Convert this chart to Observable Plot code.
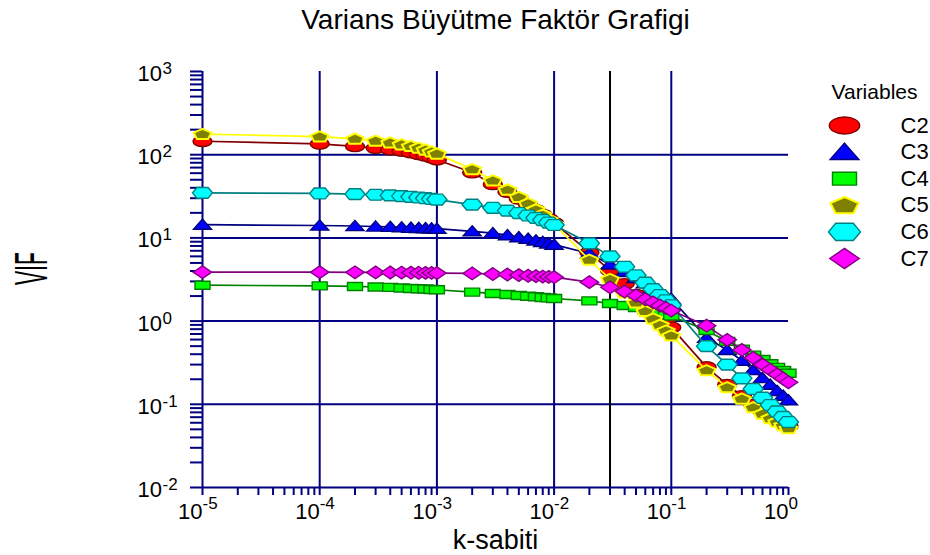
<!DOCTYPE html>
<html>
<head>
<meta charset="utf-8">
<script src="https://cdn.jsdelivr.net/npm/d3@7"></script>
<script src="https://cdn.jsdelivr.net/npm/@observablehq/plot@0.6"></script>
<style>
  body { margin: 0; background: #fff; }
  #chart svg { display: block; }
</style>
</head>
<body>
<div id="chart"></div>
<script>
// ---------------- data ----------------
const title = "Varians Büyütme Faktör Grafigi";
const xLabel = "k-sabiti";
const yLabel = "VIF";
const legendTitle = "Variables";
const seriesNames = ["C2", "C3", "C4", "C5", "C6", "C7"];

const kValues = [0.00001, 0.0001, 0.0002, 0.0003, 0.0004, 0.0005, 0.0006, 0.0007, 0.0008, 0.0009,
  0.001, 0.002, 0.003, 0.004, 0.005, 0.006, 0.007, 0.008, 0.009, 0.01,
  0.02, 0.03, 0.04, 0.05, 0.06, 0.07, 0.08, 0.09, 0.1,
  0.2, 0.3, 0.4, 0.5, 0.6, 0.7, 0.8, 0.9, 1.0];

const C2 = [145, 135, 126, 120, 115, 111, 106, 101, 97, 92.5, 87, 61, 44, 35.5, 29.5, 25, 21.6, 19, 16.9, 15.2,
  6.7, 4.05, 2.8, 2.08, 1.64, 1.34, 1.12, 0.96, 0.84, 0.28, 0.172, 0.126, 0.099, 0.082, 0.072, 0.065, 0.059, 0.0545];
const C3 = [14.4, 14.1, 13.9, 13.7, 13.6, 13.4, 13.3, 13.2, 13.1, 13.0, 12.9, 12.0, 11.4, 10.8, 10.2, 9.8, 9.35, 8.95, 8.6, 8.3,
  6.5, 4.8, 3.9, 3.3, 2.85, 2.5, 2.22, 2.0, 1.85, 0.63, 0.45, 0.335, 0.258, 0.207, 0.172, 0.145, 0.127, 0.112];
const C4 = [2.70, 2.65, 2.61, 2.57, 2.54, 2.50, 2.47, 2.45, 2.43, 2.40, 2.38, 2.23, 2.15, 2.09, 2.03, 1.99, 1.96, 1.92, 1.90, 1.87,
  1.75, 1.63, 1.54, 1.46, 1.38, 1.31, 1.25, 1.20, 1.15, 0.77, 0.57, 0.46, 0.39, 0.345, 0.307, 0.278, 0.255, 0.236];
const C5 = [177, 165, 155, 147, 140, 133, 127, 121, 115, 109, 103, 67, 49, 38, 31, 26, 22, 19, 16.6, 14.6,
  5.45, 3.2, 2.2, 1.67, 1.32, 1.07, 0.9, 0.77, 0.67, 0.256, 0.16, 0.117, 0.092, 0.077, 0.068, 0.0615, 0.056, 0.0515];
const C6 = [34.8, 34.2, 33.6, 33.0, 32.4, 31.8, 31.2, 30.6, 30.0, 29.4, 28.9, 25.1, 23.0, 21.3, 19.9, 18.6, 17.4, 16.4, 15.3, 14.3,
  8.6, 6.0, 4.5, 3.55, 2.9, 2.42, 2.06, 1.78, 1.55, 0.5, 0.3, 0.205, 0.153, 0.12, 0.098, 0.082, 0.0705, 0.0613];
const C7 = [3.87, 3.87, 3.86, 3.85, 3.84, 3.83, 3.82, 3.81, 3.80, 3.79, 3.78, 3.74, 3.68, 3.63, 3.57, 3.51, 3.47, 3.43, 3.40, 3.37,
  2.94, 2.55, 2.27, 2.03, 1.83, 1.68, 1.54, 1.44, 1.34, 0.88, 0.595, 0.45, 0.362, 0.30, 0.26, 0.229, 0.204, 0.184];

const xTickExponents = [-5, -4, -3, -2, -1, 0];
const yTickExponents = [-2, -1, 0, 1, 2, 3];
const xGridValues = [1e-4, 1e-3, 1e-2, 1e-1];
const yGridValues = [1e-1, 1, 10, 100];
const referenceK = 0.03;

// ---------------- styles ----------------
const navy = "#000080";
const FONT = "'Liberation Sans', Arial, Helvetica, sans-serif";

function polygon(pts) {
  return {
    draw(ctx, size) {
      const s = Math.sqrt(size / Math.PI);
      ctx.moveTo(pts[0][0] * s, pts[0][1] * s);
      for (let i = 1; i < pts.length; i++) ctx.lineTo(pts[i][0] * s, pts[i][1] * s);
      ctx.closePath();
    }
  };
}
const ellipseSym = {
  draw(ctx, size) {
    const s = Math.sqrt(size / Math.PI);
    const a = 9.5 * s, b = 5.3 * s, k = 0.5523;
    ctx.moveTo(a, 0);
    ctx.bezierCurveTo(a, b * k, a * k, b, 0, b);
    ctx.bezierCurveTo(-a * k, b, -a, b * k, -a, 0);
    ctx.bezierCurveTo(-a, -b * k, -a * k, -b, 0, -b);
    ctx.bezierCurveTo(a * k, -b, a, -b * k, a, 0);
    ctx.closePath();
  }
};
const triangleSym = polygon([[0, -5.6], [9, 4.6], [-9, 4.6]]);
const rectSym = polygon([[-7.5, -4], [7.5, -4], [7.5, 4], [-7.5, 4]]);
const pentagonSym = polygon([[0, -5.2], [8.8, -1.4], [5.6, 5], [-5.6, 5], [-8.8, -1.4]]);
const hexagonSym = polygon([[-10, 0], [-5.5, -5.4], [5.5, -5.4], [10, 0], [5.5, 5.4], [-5.5, 5.4]]);
const diamondSym = polygon([[0, -6.3], [9.2, 0], [0, 6.3], [-9.2, 0]]);

const seriesStyle = {
  C2: {values: C2, line: "#800000", fill: "#FF0000", stroke: "#800000", symbol: ellipseSym, sw: 1.4},
  C3: {values: C3, line: "#000080", fill: "#0000FF", stroke: "#000080", symbol: triangleSym, sw: 1.4},
  C4: {values: C4, line: "#008000", fill: "#00FF00", stroke: "#008000", symbol: rectSym, sw: 1.4},
  C5: {values: C5, line: "#FFFF00", fill: "#808000", stroke: "#FFFF00", symbol: pentagonSym, sw: 2},
  C6: {values: C6, line: "#008080", fill: "#00FFFF", stroke: "#008080", symbol: hexagonSym, sw: 1.4},
  C7: {values: C7, line: "#800080", fill: "#FF00FF", stroke: "#800080", symbol: diamondSym, sw: 1.4}
};

// ---------------- derived tables ----------------
const xMinor = [];
for (let e = -5; e < 0; e++) for (let m = 1; m <= 9; m++) xMinor.push(m * 10 ** e);
xMinor.push(1);
const yMinor = [];
for (let e = -2; e < 3; e++) for (let m = 1; m <= 9; m++) yMinor.push(m * 10 ** e);
yMinor.push(1000);

const xTicks = xTickExponents.map(e => ({v: 10 ** e, exp: String(e)}));
const yTicks = yTickExponents.map(e => ({v: 10 ** e, exp: String(e)}));

const seriesMarks = [];
for (const name of seriesNames) {
  const st = seriesStyle[name];
  const rows = kValues.map((k, i) => ({k, v: st.values[i]}));
  seriesMarks.push(Plot.line(rows, {x: "k", y: "v", stroke: st.line, strokeWidth: 1.7}));
  seriesMarks.push(Plot.dot(rows, {x: "k", y: "v", r: 1, symbol: st.symbol, fill: st.fill, stroke: st.stroke, strokeWidth: st.sw}));
}

const legendMarks = [
  Plot.text([legendTitle], {frameAnchor: "top-right", dx: 43, dy: 27, textAnchor: "start", lineAnchor: "bottom", fontSize: 21})
];
seriesNames.forEach((name, i) => {
  const st = seriesStyle[name];
  const dy = 54 + i * 26.6;
  legendMarks.push(Plot.dot([name], {frameAnchor: "top-right", dx: 56, dy, r: 1.6, symbol: st.symbol, fill: st.fill, stroke: st.stroke, strokeWidth: st.sw}));
  legendMarks.push(Plot.text([name], {frameAnchor: "top-right", dx: 112, dy, textAnchor: "start", lineAnchor: "middle", fontSize: 22, text: d => d}));
});

const chart = Plot.plot({
  width: 930,
  height: 555,
  marginLeft: 202,
  marginRight: 142,
  marginTop: 71,
  marginBottom: 68,
  style: {fontFamily: FONT, background: "#fff", color: "#000", overflow: "visible"},
  x: {type: "log", domain: [1e-5, 1]},
  y: {type: "log", domain: [1e-2, 1e3]},
  marks: [
    Plot.gridX(xGridValues, {stroke: navy, strokeOpacity: 1, strokeWidth: 2}),
    Plot.gridY(yGridValues, {stroke: navy, strokeOpacity: 1, strokeWidth: 2}),
    Plot.ruleX([referenceK], {stroke: "#000", strokeWidth: 2}),
    Plot.ruleX([1e-5], {stroke: navy, strokeWidth: 2}),
    Plot.ruleY([1e-2], {stroke: navy, strokeWidth: 2}),
    Plot.axisX(xMinor, {tickSize: 8, stroke: navy, strokeWidth: 2, fill: "none", label: null}),
    Plot.axisY(yMinor, {tickSize: 12, stroke: navy, strokeWidth: 2, fill: "none", label: null}),
    // x tick labels
    Plot.text(xTicks, {x: "v", frameAnchor: "bottom", text: () => "10", textAnchor: "end", lineAnchor: "bottom", dy: 31, fontSize: 22}),
    Plot.text(xTicks, {x: "v", frameAnchor: "bottom", text: "exp", textAnchor: "start", lineAnchor: "bottom", dy: 21, fontSize: 17}),
    // y tick labels
    Plot.text(yTicks, {y: "v", frameAnchor: "left", text: () => "10", textAnchor: "start", lineAnchor: "bottom", dx: -65, dy: 9.5, fontSize: 22}),
    Plot.text(yTicks, {y: "v", frameAnchor: "left", text: "exp", textAnchor: "start", lineAnchor: "bottom", dx: -40, dy: 2.5, fontSize: 17}),
    ...seriesMarks,
    // titles
    Plot.text([title], {frameAnchor: "top", dy: -43, lineAnchor: "bottom", fontSize: 28}),
    Plot.text([xLabel], {frameAnchor: "bottom", dy: 61, lineAnchor: "bottom", fontSize: 27}),
    Plot.text([yLabel], {frameAnchor: "left", dx: -156, dy: 5.5, rotate: -90, lineAnchor: "bottom", fontSize: 46}),
    ...legendMarks
  ]
});

// condense the VIF label like the reference
chart.querySelectorAll("text").forEach(t => {
  if (t.textContent === yLabel) {
    const tr = t.getAttribute("transform") || "";
    t.setAttribute("transform", tr + " scale(0.46,1)");
  }
});

document.getElementById("chart").appendChild(chart);
</script>
</body>
</html>
